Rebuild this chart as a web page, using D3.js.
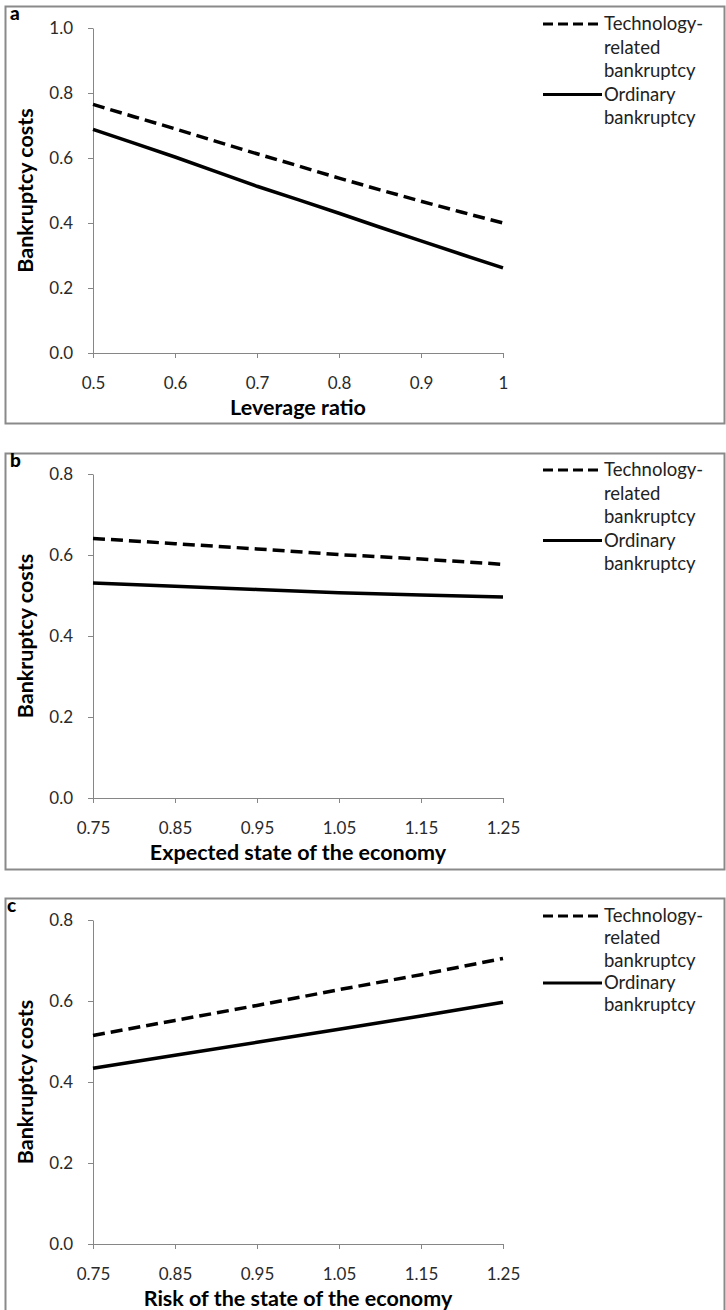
<!DOCTYPE html>
<html>
<head>
<meta charset="utf-8">
<script src="https://cdn.jsdelivr.net/npm/d3@7"></script>
<style>
  body { margin: 0; background: #fff; }
  svg { display: block; }
</style>
</head>
<body>
<svg id="chart" width="726" height="1310"></svg>
<script>
// values
const leverage = [0.5, 0.55, 0.6, 0.65, 0.7, 0.75, 0.8, 0.85, 0.9, 0.95, 1];
const techA = [0.765, 0.727, 0.690, 0.651, 0.613, 0.576, 0.538, 0.502, 0.467, 0.433, 0.400];
const ordA = [0.688, 0.646, 0.603, 0.558, 0.513, 0.472, 0.430, 0.387, 0.345, 0.303, 0.262];

const economy = [0.75, 0.85, 0.95, 1.05, 1.15, 1.25];
const techB = [0.641, 0.628, 0.615, 0.601, 0.590, 0.577];
const ordB = [0.531, 0.523, 0.515, 0.507, 0.501, 0.496];
const techC = [0.515, 0.552, 0.589, 0.628, 0.665, 0.705];
const ordC = [0.434, 0.466, 0.498, 0.530, 0.563, 0.597];

const ticksA = [0.5, 0.6, 0.7, 0.8, 0.9, 1];
const ticksEcon = [0.75, 0.85, 0.95, 1.05, 1.15, 1.25];
const yTicksA = [0, 0.2, 0.4, 0.6, 0.8, 1.0];
const yTicksBC = [0, 0.2, 0.4, 0.6, 0.8];

const legendLabels = [["Technology-", "related", "bankruptcy"], ["Ordinary", "bankruptcy"]];
const yTitle = "Bankruptcy costs";

const panels = [
  { letter: "a", lx: 10, box: [6, 423], top: 28, bottom: 353, gap: 23.5,
    xs: leverage, tech: techA, ord: ordA, domain: [0.5, 1], xt: ticksA, xf: d3.format("~g"),
    ymax: 1, yt: yTicksA, title: "Leverage ratio" },
  { letter: "b", lx: 10, box: [453, 869], top: 474, bottom: 798, gap: 23.5,
    xs: economy, tech: techB, ord: ordB, domain: [0.75, 1.25], xt: ticksEcon, xf: d3.format(".2f"),
    ymax: 0.8, yt: yTicksBC, title: "Expected state of the economy" },
  { letter: "c", lx: 7, box: [898, 1330], top: 920, bottom: 1244, gap: 22.3,
    xs: economy, tech: techC, ord: ordC, domain: [0.75, 1.25], xt: ticksEcon, xf: d3.format(".2f"),
    ymax: 0.8, yt: yTicksBC, title: "Risk of the state of the economy" }
];

const font = "Lato, 'Open Sans', sans-serif";
const axisColor = "#868686";
const left = 93, right = 503;

const svg = d3.select("#chart");

panels.forEach(p => {
  const g = svg.append("g");

  g.append("rect")
    .attr("x", 5.5).attr("y", p.box[0] + 0.5)
    .attr("width", 719).attr("height", p.box[1] - p.box[0])
    .attr("fill", "none").attr("stroke", "#8a8a8a").attr("stroke-width", 2);

  g.append("text")
    .attr("x", p.lx).attr("y", p.box[0] + 14)
    .attr("font-family", font).attr("font-weight", 900).attr("font-size", 19)
    .text(p.letter);

  const x = d3.scaleLinear().domain(p.domain).range([left, right]);
  const y = d3.scaleLinear().domain([0, p.ymax]).range([p.bottom, p.top]);

  const yAxis = g.append("g")
    .attr("transform", `translate(${left},0)`)
    .call(d3.axisLeft(y).tickValues(p.yt).tickFormat(d3.format(".1f"))
      .tickSize(5).tickSizeOuter(0).tickPadding(15));
  const xAxis = g.append("g")
    .attr("transform", `translate(0,${p.bottom})`)
    .call(d3.axisBottom(x).tickValues(p.xt).tickFormat(p.xf)
      .tickSize(5).tickSizeOuter(0).tickPadding(19));

  [yAxis, xAxis].forEach(a => {
    a.select(".domain").attr("stroke", axisColor);
    a.selectAll(".tick line").attr("stroke", axisColor);
    a.selectAll(".tick text")
      .attr("font-family", font).attr("font-size", 17).attr("fill", "#2a2a2a");
  });

  const line = d3.line().x(d => x(d[0])).y(d => y(d[1]));

  g.append("path")
    .datum(p.xs.map((v, i) => [v, p.tech[i]]))
    .attr("d", line)
    .attr("fill", "none").attr("stroke", "#000").attr("stroke-width", 3.5)
    .attr("stroke-dasharray", "12,6");
  g.append("path")
    .datum(p.xs.map((v, i) => [v, p.ord[i]]))
    .attr("d", line)
    .attr("fill", "none").attr("stroke", "#000").attr("stroke-width", 3.5);

  // axis titles
  g.append("text")
    .attr("x", (left + right) / 2).attr("y", p.bottom + 62)
    .attr("text-anchor", "middle")
    .attr("font-family", font).attr("font-weight", 700).attr("font-size", 21.5)
    .text(p.title);
  g.append("text")
    .attr("transform", `translate(33,${(p.top + p.bottom) / 2}) rotate(-90)`)
    .attr("text-anchor", "middle")
    .attr("font-family", font).attr("font-weight", 700).attr("font-size", 21.5)
    .text(yTitle);

  // legend
  const ly = p.top - 4;
  const lg = g.append("g").attr("font-family", font).attr("font-size", 18.5).attr("fill", "#222");
  lg.append("line")
    .attr("x1", 543).attr("x2", 602).attr("y1", ly).attr("y2", ly)
    .attr("stroke", "#000").attr("stroke-width", 3).attr("stroke-dasharray", "10,5");
  lg.append("line")
    .attr("x1", 543).attr("x2", 602).attr("y1", ly + 3 * p.gap).attr("y2", ly + 3 * p.gap)
    .attr("stroke", "#000").attr("stroke-width", 3);
  legendLabels.flat().forEach((t, i) => {
    lg.append("text")
      .attr("x", 604).attr("y", ly + 6 + i * p.gap)
      .text(t);
  });
});
</script>
</body>
</html>
